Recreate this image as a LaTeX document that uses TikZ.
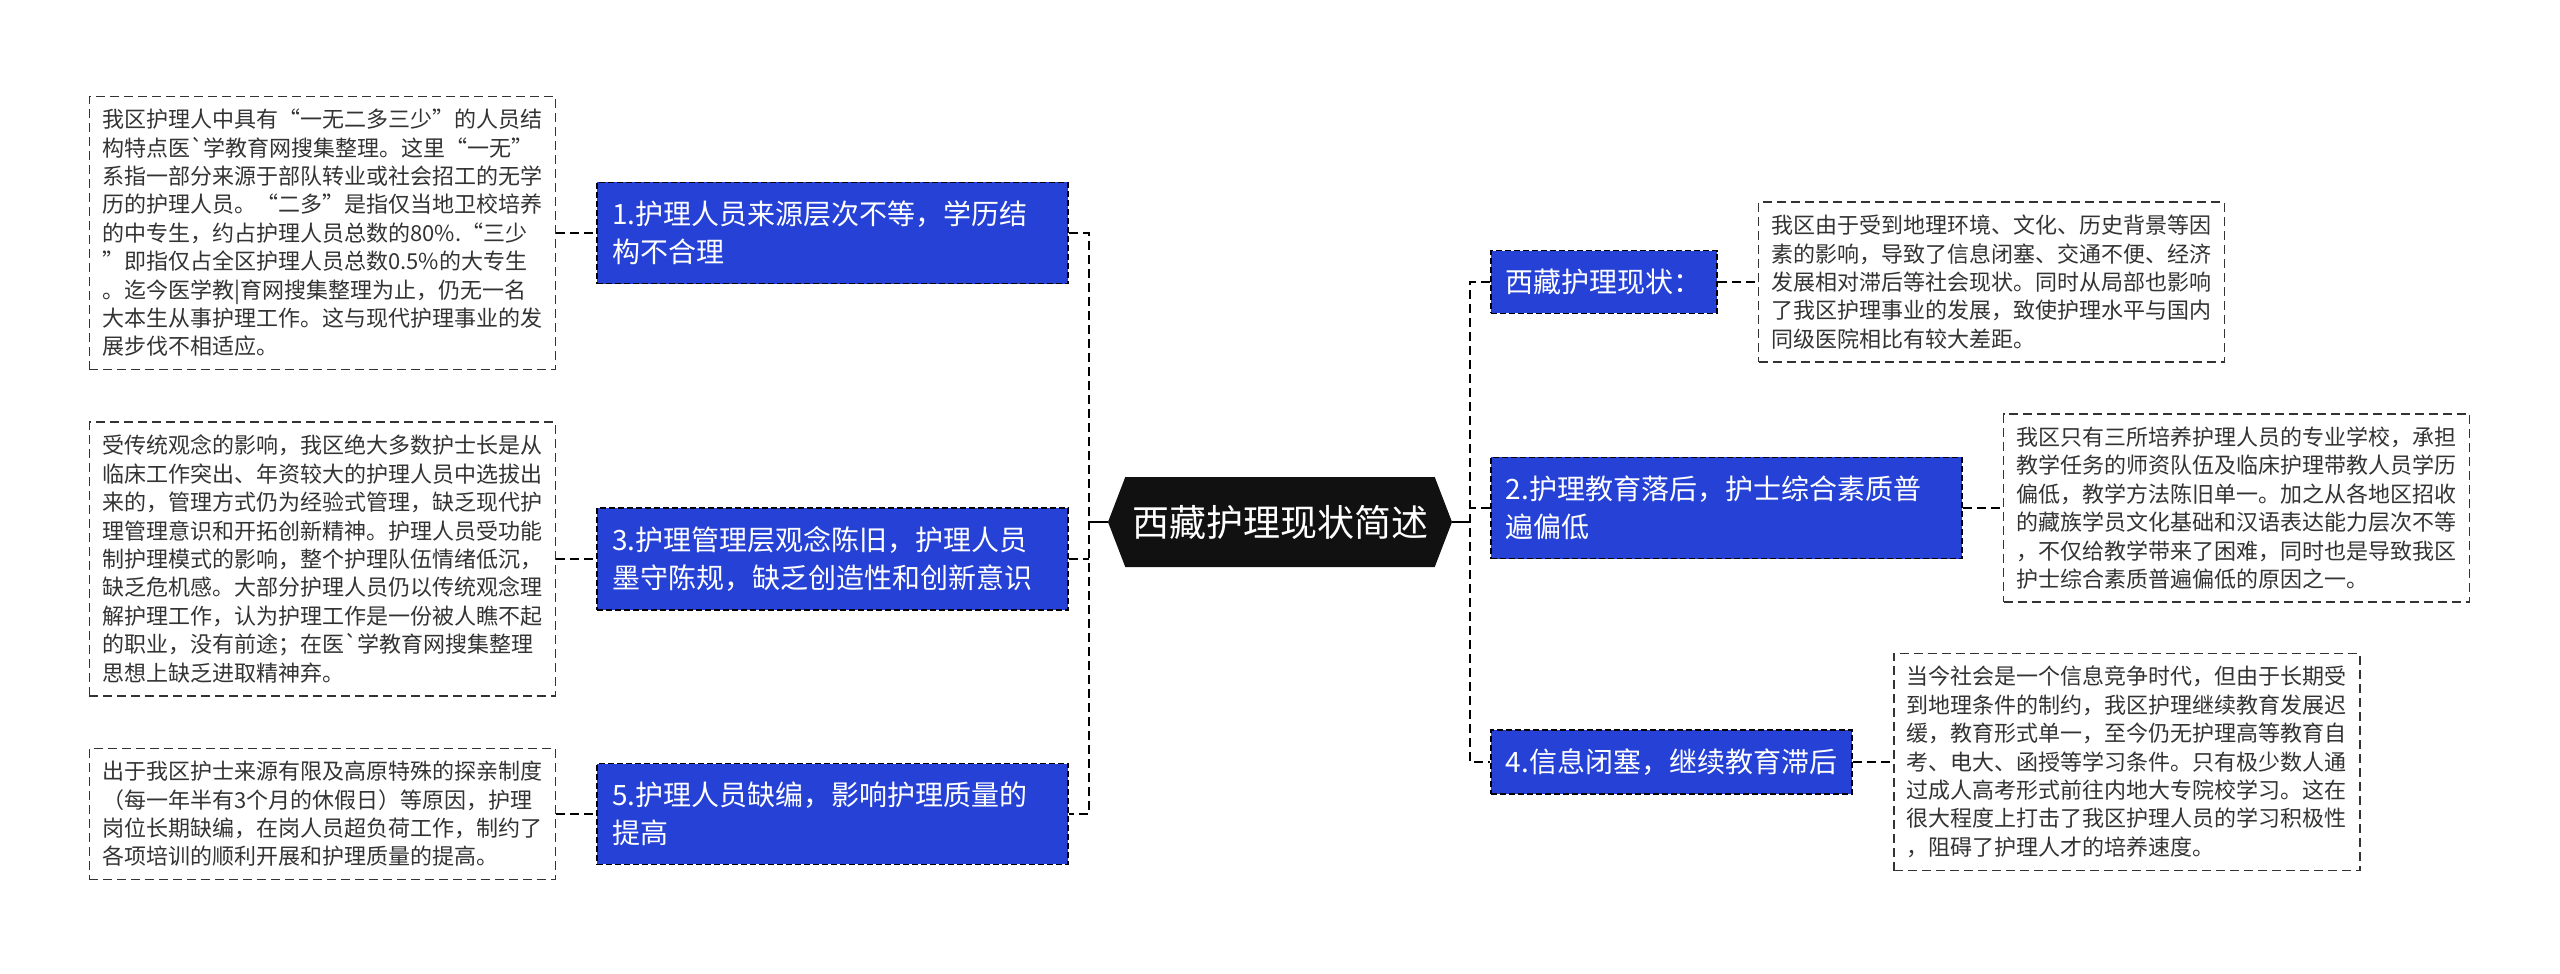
\documentclass[tikz,border=0pt]{standalone}
\usepackage{fontspec}
\newfontfamily\cjk{Noto Sans CJK SC}
\usepackage{xcolor}
\usepackage{tikz}
\usetikzlibrary{positioning, shapes.symbols}
\definecolor{topicblue}{HTML}{2541D6}
\definecolor{hubblack}{HTML}{111111}
\definecolor{leafgray}{HTML}{333333}
\definecolor{textgray}{HTML}{333333}
\tikzset{
  leaf/.style={draw=leafgray, dash pattern=on 4.5pt off 2.5pt, line width=0.8pt, text=textgray,
    text width=220pt, align=left, inner xsep=6.5pt, inner ysep=6.4pt,
    font=\cjk\fontsize{11}{14.2}\selectfont},
  topic/.style={fill=topicblue, draw=black, dash pattern=on 3pt off 1.5pt, line width=0.9pt,
    text=white, align=left, inner xsep=7.5pt, inner ysep=9.25pt,
    font=\cjk\fontsize{14}{19}\selectfont},
  hub/.style={signal, signal to=east and west, signal pointer angle=138, fill=hubblack,
    text=white, minimum width=172pt, minimum height=45pt, inner sep=0pt,
    font=\cjk\fontsize{18.5}{22}\selectfont},
  link/.style={draw=black, dash pattern=on 4.5pt off 2.5pt, line width=1.3pt},
}

\begin{document}
\begin{tikzpicture}[x=0.5pt, y=-0.5pt, node distance=20pt]
  \useasboundingbox (0,0) rectangle (2560,974);
  \node[hub] (root) at (1280,522) {西藏护理现状简述};
  \coordinate (sl) at (1089,522);
  \coordinate (sr) at (1470,522);

  \node[topic, text width=220.5pt, anchor=east] (b1) at (1069,233)
    {1.护理人员来源层次不等，学历结\\构不合理};
  \node[topic, text width=220.5pt, anchor=east] (b3) at (1069,559)
    {3.护理管理层观念陈旧，护理人员\\墨守陈规，缺乏创造性和创新意识};
  \node[topic, text width=220.5pt, anchor=east] (b5) at (1069,814)
    {5.护理人员缺编，影响护理质量的\\提高};

  \node[leaf, left=of b1] (l1)
    {我区护理人中具有“一无二多三少”的人员结\\构特点医\textasciigrave 学教育网搜集整理。这里“一无”\\系指一部分来源于部队转业或社会招工的无学\\历的护理人员。“二多”是指仅当地卫校培养\\的中专生，约占护理人员总数的80\%.“三少\\”即指仅占全区护理人员总数0.5\%的大专生\\。迄今医学教|育网搜集整理为止，仍无一名\\大本生从事护理工作。这与现代护理事业的发\\展步伐不相适应。};
  \node[leaf, left=of b3] (l3)
    {受传统观念的影响，我区绝大多数护士长是从\\临床工作突出、年资较大的护理人员中选拔出\\来的，管理方式仍为经验式管理，缺乏现代护\\理管理意识和开拓创新精神。护理人员受功能\\制护理模式的影响，整个护理队伍情绪低沉，\\缺乏危机感。大部分护理人员仍以传统观念理\\解护理工作，认为护理工作是一份被人瞧不起\\的职业，没有前途；在医\textasciigrave 学教育网搜集整理\\思想上缺乏进取精神弃。};
  \node[leaf, left=of b5] (l5)
    {出于我区护士来源有限及高原特殊的探亲制度\\（每一年半有3个月的休假日）等原因，护理\\岗位长期缺编，在岗人员超负荷工作，制约了\\各项培训的顺利开展和护理质量的提高。};

  \node[topic, anchor=west] (ra) at (1490,282) {西藏护理现状：};
  \node[topic, text width=220.5pt, anchor=west] (r2) at (1490,508)
    {2.护理教育落后，护士综合素质普\\遍偏低};
  \node[topic, anchor=west] (r4) at (1490,762) {4.信息闭塞，继续教育滞后};

  \node[leaf, right=of ra] (la)
    {我区由于受到地理环境、文化、历史背景等因\\素的影响，导致了信息闭塞、交通不便、经济\\发展相对滞后等社会现状。同时从局部也影响\\了我区护理事业的发展，致使护理水平与国内\\同级医院相比有较大差距。};
  \node[leaf, right=of r2] (lb)
    {我区只有三所培养护理人员的专业学校，承担\\教学任务的师资队伍及临床护理带教人员学历\\偏低，教学方法陈旧单一。加之从各地区招收\\的藏族学员文化基础和汉语表达能力层次不等\\，不仅给教学带来了困难，同时也是导致我区\\护士综合素质普遍偏低的原因之一。};
  \node[leaf, right=of r4] (lc)
    {当今社会是一个信息竞争时代，但由于长期受\\到地理条件的制约，我区护理继续教育发展迟\\缓，教育形式单一，至今仍无护理高等教育自\\考、电大、函授等学习条件。只有极少数人通\\过成人高考形式前往内地大专院校学习。这在\\很大程度上打击了我区护理人员的学习积极性\\，阻碍了护理人才的培养速度。};

  \draw[line width=1.2pt] (root.west) -- (sl);
  \draw[line width=1.2pt] (root.east) -- (sr);
  \draw[link] (b1.east) -| (sl) |- (b5.east);
  \draw[link] (b3.east) -- (b3.east -| sl);
  \draw[link] (ra.west) -| (sr) |- (r4.west);
  \draw[link] (r2.west) -- (r2.west -| sr);
  \draw[link] (l1.east) -- (b1.west);
  \draw[link] (l3.east) -- (b3.west);
  \draw[link] (l5.east) -- (b5.west);
  \draw[link] (ra.east) -- (la.west);
  \draw[link] (r2.east) -- (lb.west);
  \draw[link] (r4.east) -- (lc.west);
\end{tikzpicture}
\end{document}
